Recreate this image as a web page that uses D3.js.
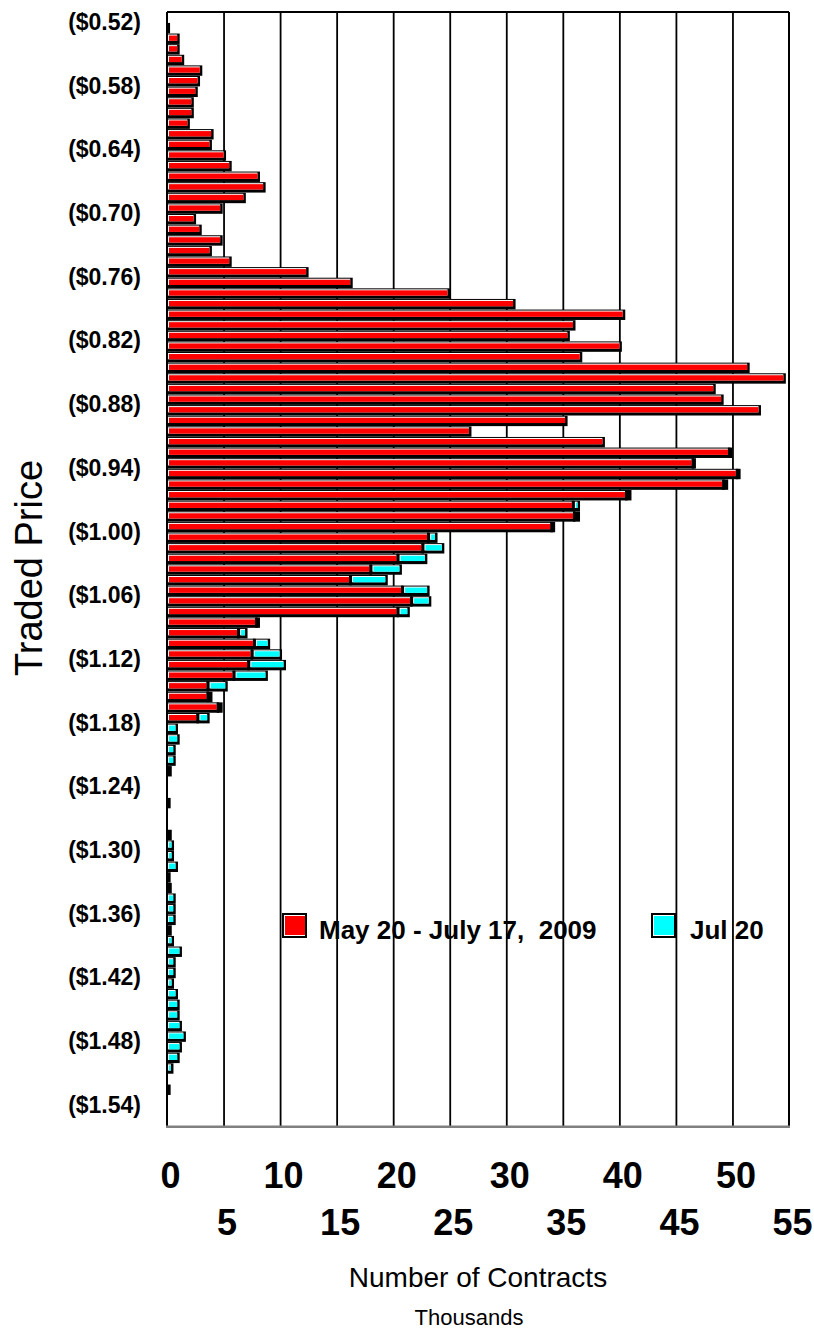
<!DOCTYPE html>
<html>
<head>
<meta charset="utf-8">
<script src="https://cdn.jsdelivr.net/npm/d3@7"></script>
<style>
  body { margin: 0; background: #fff; }
  svg { display: block; font-family: "Liberation Sans", Arial, sans-serif; }
</style>
</head>
<body>
<svg id="chart" width="814" height="1330"></svg>
<script>
// price levels, top to bottom
var priceLevels = [
  "0.51","0.52","0.53","0.54","0.55","0.56","0.57","0.58","0.59","0.60",
  "0.61","0.62","0.63","0.64","0.65","0.66","0.67","0.68","0.69","0.70",
  "0.71","0.72","0.73","0.74","0.75","0.76","0.77","0.78","0.79","0.80",
  "0.81","0.82","0.83","0.84","0.85","0.86","0.87","0.88","0.89","0.90",
  "0.91","0.92","0.93","0.94","0.95","0.96","0.97","0.98","0.99","1.00",
  "1.01","1.02","1.03","1.04","1.05","1.06","1.07","1.08","1.09","1.10",
  "1.11","1.12","1.13","1.14","1.15","1.16","1.17","1.18","1.19","1.20",
  "1.21","1.22","1.23","1.24","1.25","1.26","1.27","1.28","1.29","1.30",
  "1.31","1.32","1.33","1.34","1.35","1.36","1.37","1.38","1.39","1.40",
  "1.41","1.42","1.43","1.44","1.45","1.46","1.47","1.48","1.49","1.50",
  "1.51","1.52","1.53","1.54","1.55"
];

// May 20 - July 17, 2009 (thousands of contracts)
var mayJulValues = [
  0, 0.05, 0.9, 0.9, 1.3, 2.9, 2.7, 2.5, 2.15, 2.15,
  1.8, 3.9, 3.75, 5.0, 5.5, 8.0, 8.5, 6.75, 4.7, 2.35,
  2.85, 4.7, 3.75, 5.5, 12.3, 16.2, 24.8, 30.6, 40.3, 35.9,
  35.4, 40.0, 36.5, 51.3, 54.5, 48.3, 49.0, 52.3, 35.2, 26.7,
  38.5, 49.6, 46.4, 50.3, 49.1, 40.5, 35.8, 35.9, 33.9, 23.0,
  22.5, 20.3, 17.9, 16.1, 20.7, 21.5, 20.3, 7.8, 6.2, 7.6,
  7.4, 7.1, 5.8, 3.5, 3.5, 4.4, 2.6, 0, 0, 0,
  0, 0, 0, 0, 0, 0, 0, 0, 0, 0,
  0, 0, 0, 0, 0, 0, 0, 0, 0, 0,
  0, 0, 0, 0, 0, 0, 0, 0, 0, 0,
  0, 0, 0, 0, 0
];

// Jul 20 (thousands of contracts)
var jul20Values = [
  0, 0, 0, 0, 0, 0, 0, 0, 0, 0,
  0, 0, 0, 0, 0, 0, 0, 0, 0, 0,
  0, 0, 0, 0, 0, 0, 0, 0, 0, 0,
  0, 0, 0, 0, 0, 0, 0, 0, 0, 0,
  0, 0.15, 0.15, 0.2, 0.3, 0.35, 0.5, 0.4, 0.2, 0.7,
  1.8, 2.5, 2.65, 3.2, 2.3, 1.65, 0.95, 0.2, 0.7, 1.3,
  2.55, 3.2, 2.9, 1.65, 0.3, 0.3, 0.95, 0.75, 0.9, 0.55,
  0.55, 0.2, 0, 0, 0.1, 0, 0, 0.2, 0.4, 0.4,
  0.75, 0.1, 0.2, 0.55, 0.55, 0.55, 0.2, 0.4, 1.1, 0.55,
  0.55, 0.4, 0.75, 0.9, 0.9, 1.1, 1.45, 1.1, 0.9, 0.35,
  0, 0.1, 0, 0, 0
];

var priceTicks = ["0.52","0.58","0.64","0.70","0.76","0.82","0.88","0.94","1.00",
                  "1.06","1.12","1.18","1.24","1.30","1.36","1.42","1.48","1.54"];
var contractTicks = [0, 5, 10, 15, 20, 25, 30, 35, 40, 45, 50, 55];
var seriesNames = ["May 20 - July 17,  2009", "Jul 20"];
var seriesColours = ["#ff0000", "#00ffff"];

var svg = d3.select("#chart");
var plotLeft = 167, plotRight = 789, plotTop = 12, plotBottom = 1126.7;

var x = d3.scaleLinear().domain([0, 55]).range([plotLeft, plotRight]);
var y = d3.scaleBand().domain(priceLevels).range([plotTop, plotBottom]);

// vertical grid lines
svg.append("g")
  .attr("transform", "translate(0," + plotBottom + ")")
  .call(d3.axisBottom(x).tickValues(contractTicks.slice(1, -1)).tickSize(-(plotBottom - plotTop)).tickFormat(""))
  .call(function (g) {
    g.select(".domain").remove();
    g.selectAll("line").attr("stroke", "#000").attr("stroke-width", 1.8);
  });

/**
 * one bar piece: black outline with shadow, white highlight, colour fill
 */
var drawPiece = function (g, x0, x1, cy, colour, stacked) {
  var w = x1 - x0;
  if (w <= 0) { return; }
  g.append("rect")
    .attr("x", x0).attr("y", cy - 5)
    .attr("width", w + 2.5).attr("height", 10.4)
    .attr("fill", "#000");
  var start = stacked ? 2 : 0;
  if (w - start > 3) {
    g.append("rect")
      .attr("x", x0 + start + 1).attr("y", cy - 4)
      .attr("width", w - start - 1).attr("height", 6.3)
      .attr("fill", "#fff");
    g.append("rect")
      .attr("x", x0 + start + 2).attr("y", cy - 3)
      .attr("width", w - start - 2).attr("height", 5.3)
      .attr("fill", colour);
  }
};

var bars = svg.append("g");
priceLevels.forEach(function (p, i) {
  var cy = y(p) + y.bandwidth() / 2;
  var a = mayJulValues[i], b = jul20Values[i];
  if (a > 0) { drawPiece(bars, x(0), x(a), cy, seriesColours[0], false); }
  if (b > 0) { drawPiece(bars, x(a), x(a + b), cy, seriesColours[1], a > 0); }
});

// plot frame
svg.append("line").attr("x1", plotLeft).attr("x2", plotRight).attr("y1", plotTop).attr("y2", plotTop)
  .attr("stroke", "#000").attr("stroke-width", 2);
svg.append("line").attr("x1", plotLeft).attr("x2", plotLeft).attr("y1", plotTop).attr("y2", plotBottom)
  .attr("stroke", "#000").attr("stroke-width", 2);
svg.append("line").attr("x1", plotRight).attr("x2", plotRight).attr("y1", plotTop).attr("y2", plotBottom)
  .attr("stroke", "#000").attr("stroke-width", 2);
svg.append("line").attr("x1", plotLeft - 1).attr("x2", plotRight + 1).attr("y1", plotBottom).attr("y2", plotBottom)
  .attr("stroke", "#808080").attr("stroke-width", 2.5);

// price axis labels
svg.append("g")
  .attr("transform", "translate(" + plotLeft + ",0)")
  .call(d3.axisLeft(y).tickValues(priceTicks).tickSize(0).tickPadding(26)
    .tickFormat(function (d) { return "($" + d + ")"; }))
  .call(function (g) {
    g.select(".domain").remove();
    g.selectAll("text")
      .attr("dy", "0.35em").attr("y", -6)
      .style("font-family", "'Liberation Sans', Arial, sans-serif")
      .style("font-size", "23px").style("font-weight", "bold").attr("fill", "#000");
  });

// contracts axis labels, staggered on two rows
svg.append("g")
  .attr("transform", "translate(0," + plotBottom + ")")
  .call(d3.axisBottom(x).tickValues(contractTicks).tickSize(0))
  .call(function (g) {
    g.select(".domain").remove();
    g.selectAll("text")
      .attr("dy", 0).attr("dx", 3)
      .attr("y", function (d, i) { return i % 2 ? 108 : 61; })
      .style("font-family", "'Liberation Sans', Arial, sans-serif")
      .style("font-size", "36px").style("font-weight", "bold").attr("fill", "#000");
  });

svg.append("text")
  .attr("x", 478).attr("y", 1287).attr("text-anchor", "middle")
  .style("font-size", "28px").text("Number of Contracts");
svg.append("text")
  .attr("x", 469).attr("y", 1325).attr("text-anchor", "middle")
  .style("font-size", "22px").text("Thousands");
svg.append("text")
  .attr("transform", "translate(42,568) rotate(-90)").attr("text-anchor", "middle")
  .style("font-size", "38px").text("Traded Price");

// legend
var legendX = [282, 651];
var legendTextX = [319, 690];
seriesNames.forEach(function (name, i) {
  var lg = svg.append("g");
  lg.append("rect").attr("x", legendX[i]).attr("y", 913).attr("width", 25).attr("height", 25).attr("fill", "#000");
  lg.append("rect").attr("x", legendX[i] + 2).attr("y", 915).attr("width", 21).attr("height", 21).attr("fill", "#fff");
  lg.append("rect").attr("x", legendX[i] + 3).attr("y", 916).attr("width", 20).attr("height", 19).attr("fill", seriesColours[i]);
  lg.append("text")
    .attr("x", legendTextX[i]).attr("y", 939)
    .style("white-space", "pre")
    .style("font-size", "26px").style("font-weight", "bold")
    .text(name);
});
</script>
</body>
</html>
